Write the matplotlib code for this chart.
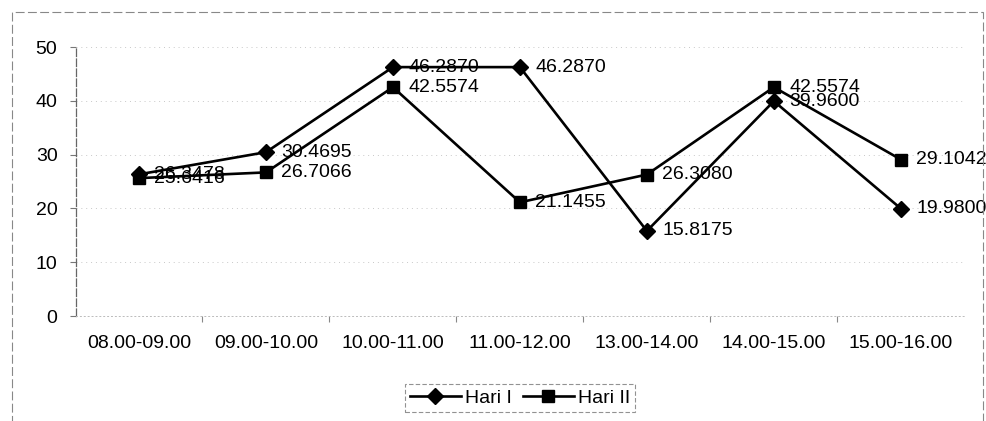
import matplotlib
matplotlib.use("Agg")
import matplotlib.pyplot as plt
from matplotlib.patches import Rectangle
from matplotlib.ticker import FixedLocator, NullFormatter

plt.rcParams['font.family'] = ['Liberation Sans', 'DejaVu Sans']

# Hourly intervals and the measured values for both days
categories = ["08.00-09.00", "09.00-10.00", "10.00-11.00", "11.00-12.00",
              "13.00-14.00", "14.00-15.00", "15.00-16.00"]
hari_1 = [26.3478, 30.4695, 46.2870, 46.2870, 15.8175, 39.9600, 19.9800]
hari_2 = [25.6416, 26.7066, 42.5574, 21.1455, 26.3080, 42.5574, 29.1042]
y_ticks = [0, 10, 20, 30, 40, 50]

fig = plt.figure(figsize=(9.86, 4.21), dpi=100)
ax = fig.add_axes([0.0766, 0.2494, 0.9014, 0.6386])

x = list(range(len(categories)))
ax.plot(x, hari_1, color='black', lw=1.9, marker='D', markersize=8.5,
        label='Hari I', zorder=3)
ax.plot(x, hari_2, color='black', lw=1.9, marker='s', markersize=9,
        label='Hari II', zorder=3)

# Value labels to the right of each point
for series in (hari_1, hari_2):
    for xi, v in zip(x, series):
        ax.annotate(f"{v:.4f}", (xi, v), xytext=(11, 0),
                    textcoords='offset points', ha='left', va='center',
                    fontsize=14, color='black', zorder=4)

ax.set_xlim(-0.5, len(categories) - 0.5)
ax.set_ylim(0, 50)
ax.set_yticks(y_ticks)
ax.set_xticks(x)
ax.set_xticklabels(categories)
ax.xaxis.set_minor_locator(FixedLocator([i + 0.5 for i in range(len(categories) - 1)]))
ax.xaxis.set_minor_formatter(NullFormatter())

ax.tick_params(axis='x', which='major', length=0, pad=14, labelsize=14)
ax.tick_params(axis='x', which='minor', length=4, width=0.8, color='#888888')
ax.tick_params(axis='y', length=4, width=0.8, color='#777777', pad=9, labelsize=14)

# Faint horizontal gridlines
ax.yaxis.grid(True, linestyle=(0, (1, 4)), color='#c8c8c8', lw=0.7)
ax.set_axisbelow(True)

for side in ('top', 'right'):
    ax.spines[side].set_visible(False)
ax.spines['left'].set_color('#666666')
ax.spines['left'].set_linewidth(0.9)
ax.spines['left'].set_linestyle((0, (6, 2)))
ax.spines['bottom'].set_color('#bbbbbb')
ax.spines['bottom'].set_linewidth(0.7)
ax.spines['bottom'].set_linestyle((0, (1, 3)))

leg = ax.legend(loc='center', bbox_to_anchor=(520 / 986, 1 - 398 / 421),
                bbox_transform=fig.transFigure, ncol=2, fontsize=14,
                frameon=True, fancybox=False, handlelength=2.6,
                handletextpad=0.2, columnspacing=0.6, borderpad=0.25)
leg.get_frame().set_edgecolor('#777777')
leg.get_frame().set_linewidth(0.8)
leg.get_frame().set_linestyle((0, (4, 2)))

# Outer chart border
fig.patches.append(Rectangle((12 / 986, -0.05), 971 / 986, 1 - 12 / 421 + 0.05,
                             transform=fig.transFigure, fill=False,
                             edgecolor='#888888', lw=0.8,
                             linestyle=(0, (8, 3)), zorder=0))

fig.savefig("out.png", dpi=100, facecolor='white')
